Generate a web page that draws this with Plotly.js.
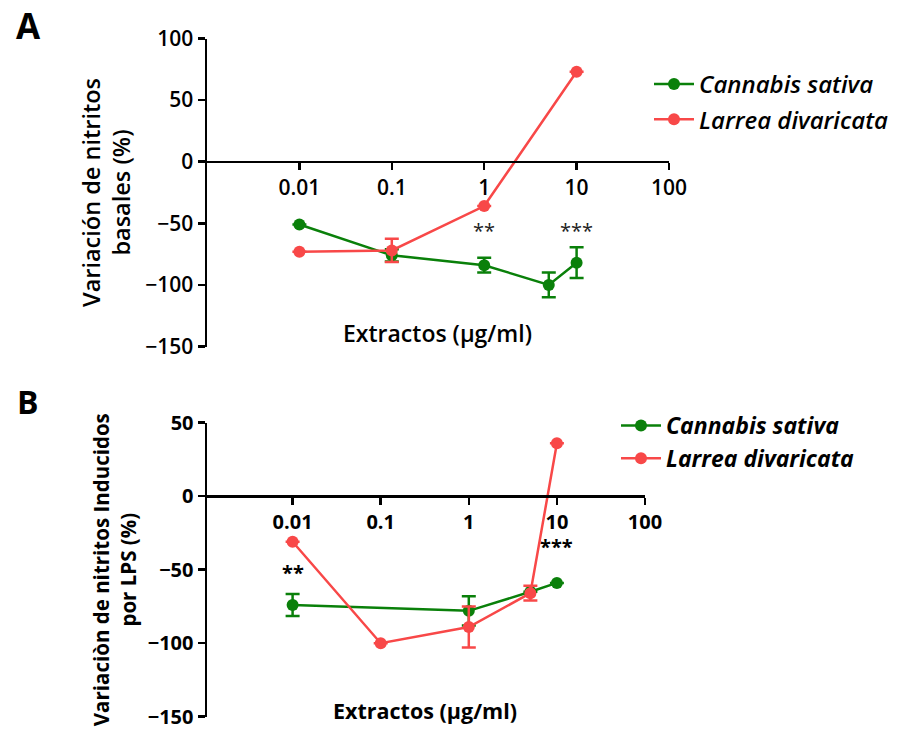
<!DOCTYPE html>
<html>
<head>
<meta charset="utf-8">
<script src="https://cdn.plot.ly/plotly-3.0.1.min.js"></script>
<style>html,body{margin:0;padding:0;background:#fff;}#chart{width:905px;height:731px;}</style>
</head>
<body>
<div id="chart"></div>
<script>
// ---- shared ----
const seriesNames = ['Cannabis sativa', 'Larrea divaricata'];
const xTickVals = [0.01, 0.1, 1, 10, 100];
const xTickText = ['0.01', '0.1', '1', '10', '100'];

// ---- Panel A data (basal nitrites) ----
const cannabisA_x = [0.01, 0.1, 1, 5, 10];
const cannabisA_y = [-51, -76, -84, -100, -82];
const cannabisA_err = [0, 5, 6, 10, 12.5];

const larreaA_x = [0.01, 0.1, 1, 10];
const larreaA_y = [-73, -72, -36, 73];
const larreaA_err = [0, 9.5, 0, 0];

const starsA_x = [1, 10];
const starsA_y = [-56, -56];
const starsA_text = ['**', '***'];

// ---- Panel B data (LPS-induced nitrites) ----
const cannabisB_x = [0.01, 1, 5, 10];
const cannabisB_y = [-74, -78, -65, -59];
const cannabisB_err = [7.5, 10, 0, 0];

const larreaB_x = [0.01, 0.1, 1, 5, 10];
const larreaB_y = [-31, -100, -89, -66, 36];
const larreaB_err = [0, 0, 14, 5, 0];

const starsB_x = [0.01, 10];
const starsB_y = [-52, -34];
const starsB_text = ['**', '***'];

const yTicksA = [-150, -100, -50, 0, 50, 100];
const yTicksB = [-150, -100, -50, 0, 50];

// ---- styles ----
const GREEN = '#0a800a';
const RED = '#f84848';
const FONT = 'Open Sans, Liberation Sans, Arial, sans-serif';
const W = 905, H = 731;

function trace(name, x, y, err, color, xa, ya, legend, group) {
  return {
    type: 'scatter', mode: 'lines+markers', name: name,
    x: x, y: y, xaxis: xa, yaxis: ya, legend: legend, legendgroup: group,
    line: {color: color, width: 2.5},
    marker: {color: color, size: 12},
    error_y: {type: 'data', array: err, visible: true, color: color, thickness: 2.5, width: 7},
    cliponaxis: false
  };
}

const data = [
  trace(seriesNames[0], cannabisA_x, cannabisA_y, cannabisA_err, GREEN, 'x', 'y', 'legend', 'cA'),
  trace(seriesNames[1], larreaA_x, larreaA_y, larreaA_err, RED, 'x', 'y', 'legend', 'lA'),
  trace(seriesNames[0], cannabisB_x, cannabisB_y, cannabisB_err, GREEN, 'x2', 'y2', 'legend2', 'cB'),
  trace(seriesNames[1], larreaB_x, larreaB_y, larreaB_err, RED, 'x2', 'y2', 'legend2', 'lB')
];

// plot-area frames in pixels -> paper fractions
const A = {l: 207, r: 669, t: 38.5, b: 346.5, ymin: -150, ymax: 100};
const B = {l: 204.5, r: 645, t: 422.7, b: 716.7, ymin: -150, ymax: 50};
function xd(p) { return [p.l / W, p.r / W]; }
function yd(p) { return [1 - p.b / H, 1 - p.t / H]; }
function zeroPos(p) {
  const d = yd(p);
  return d[0] + (0 - p.ymin) / (p.ymax - p.ymin) * (d[1] - d[0]);
}

function xaxis(p, fontW, size) {
  return {
    type: 'log', range: [-3, 2], domain: xd(p),
    anchor: 'free', position: zeroPos(p),
    tickvals: xTickVals, ticktext: xTickText,
    ticks: 'outside', ticklen: 7, tickwidth: 2.5, tickcolor: '#000',
    showline: true, linecolor: '#000', linewidth: 2.5,
    showgrid: false, zeroline: false,
    tickfont: {family: FONT, size: size, color: '#000', weight: fontW},
    fixedrange: true
  };
}
function yaxis(p, ticks, title, fontW, size, tsize, standoff) {
  return {
    range: [p.ymin, p.ymax], domain: yd(p), tickvals: ticks,
    ticks: 'outside', ticklen: 7, tickwidth: 2.5, tickcolor: '#000',
    showline: true, linecolor: '#000', linewidth: 2.5,
    showgrid: false, zeroline: false,
    tickfont: {family: FONT, size: size, color: '#000', weight: fontW},
    title: {text: title, standoff: standoff, font: {family: FONT, size: tsize, color: '#000', weight: fontW}},
    fixedrange: true
  };
}

const annotations = [];
starsA_x.forEach((x, i) => annotations.push({
  xref: 'x', yref: 'y', x: Math.log10(x), y: starsA_y[i], text: starsA_text[i],
  showarrow: false, xanchor: 'center', yanchor: 'middle',
  font: {family: FONT, size: 20, color: '#222'}
}));
starsB_x.forEach((x, i) => annotations.push({
  xref: 'x2', yref: 'y2', x: Math.log10(x), y: starsB_y[i], text: starsB_text[i],
  showarrow: false, xanchor: 'center', yanchor: 'middle',
  font: {family: FONT, size: 20, color: '#000', weight: 'bold'}
}));
annotations.push(
  {xref: 'paper', yref: 'paper', x: 437 / W, y: 1 - 333 / H, text: 'Extractos (µg/ml)', showarrow: false,
   xanchor: 'center', yanchor: 'middle', font: {family: FONT, size: 23, color: '#000', weight: 600}},
  {xref: 'paper', yref: 'paper', x: 425 / W, y: 1 - 710 / H, text: 'Extractos (µg/ml)', showarrow: false,
   xanchor: 'center', yanchor: 'middle', font: {family: FONT, size: 21.5, color: '#000', weight: 'bold'}},
  {xref: 'paper', yref: 'paper', x: 28.5 / W, y: 1 - 26 / H, text: 'A', showarrow: false,
   xanchor: 'center', yanchor: 'middle', font: {family: FONT, size: 35, color: '#000', weight: 'bold'}},
  {xref: 'paper', yref: 'paper', x: 28.5 / W, y: 1 - 401 / H, text: 'B', showarrow: false,
   xanchor: 'center', yanchor: 'middle', font: {family: FONT, size: 32, color: '#000', weight: 'bold'}}
);

const layout = {
  width: W, height: H,
  margin: {l: 0, r: 0, t: 0, b: 0},
  paper_bgcolor: '#fff', plot_bgcolor: 'rgba(0,0,0,0)',
  showlegend: true,
  xaxis: xaxis(A, 600, 21),
  yaxis: yaxis(A, yTicksA, 'Variación de nitritos<br>basales (%)', 600, 21, 23.5, 8),
  xaxis2: xaxis(B, 'bold', 20),
  yaxis2: yaxis(B, yTicksB, 'Variaciòn de nitritos Inducidos<br>por LPS (%)', 'bold', 20, 20.5, 6),
  legend: {x: 649 / W, y: 1 - 62 / H, xanchor: 'left', yanchor: 'top', bgcolor: 'rgba(0,0,0,0)',
           traceorder: 'grouped', tracegroupgap: 1,
           font: {family: FONT, size: 24, color: '#000', style: 'italic', weight: 600}, itemwidth: 40},
  legend2: {x: 616 / W, y: 1 - 404 / H, xanchor: 'left', yanchor: 'top', bgcolor: 'rgba(0,0,0,0)',
           traceorder: 'grouped', tracegroupgap: 0,
           font: {family: FONT, size: 23, color: '#000', style: 'italic', weight: 'bold'}, itemwidth: 40},
  annotations: annotations
};

Plotly.newPlot('chart', data, layout, {staticPlot: true, displayModeBar: false});
</script>
</body>
</html>
